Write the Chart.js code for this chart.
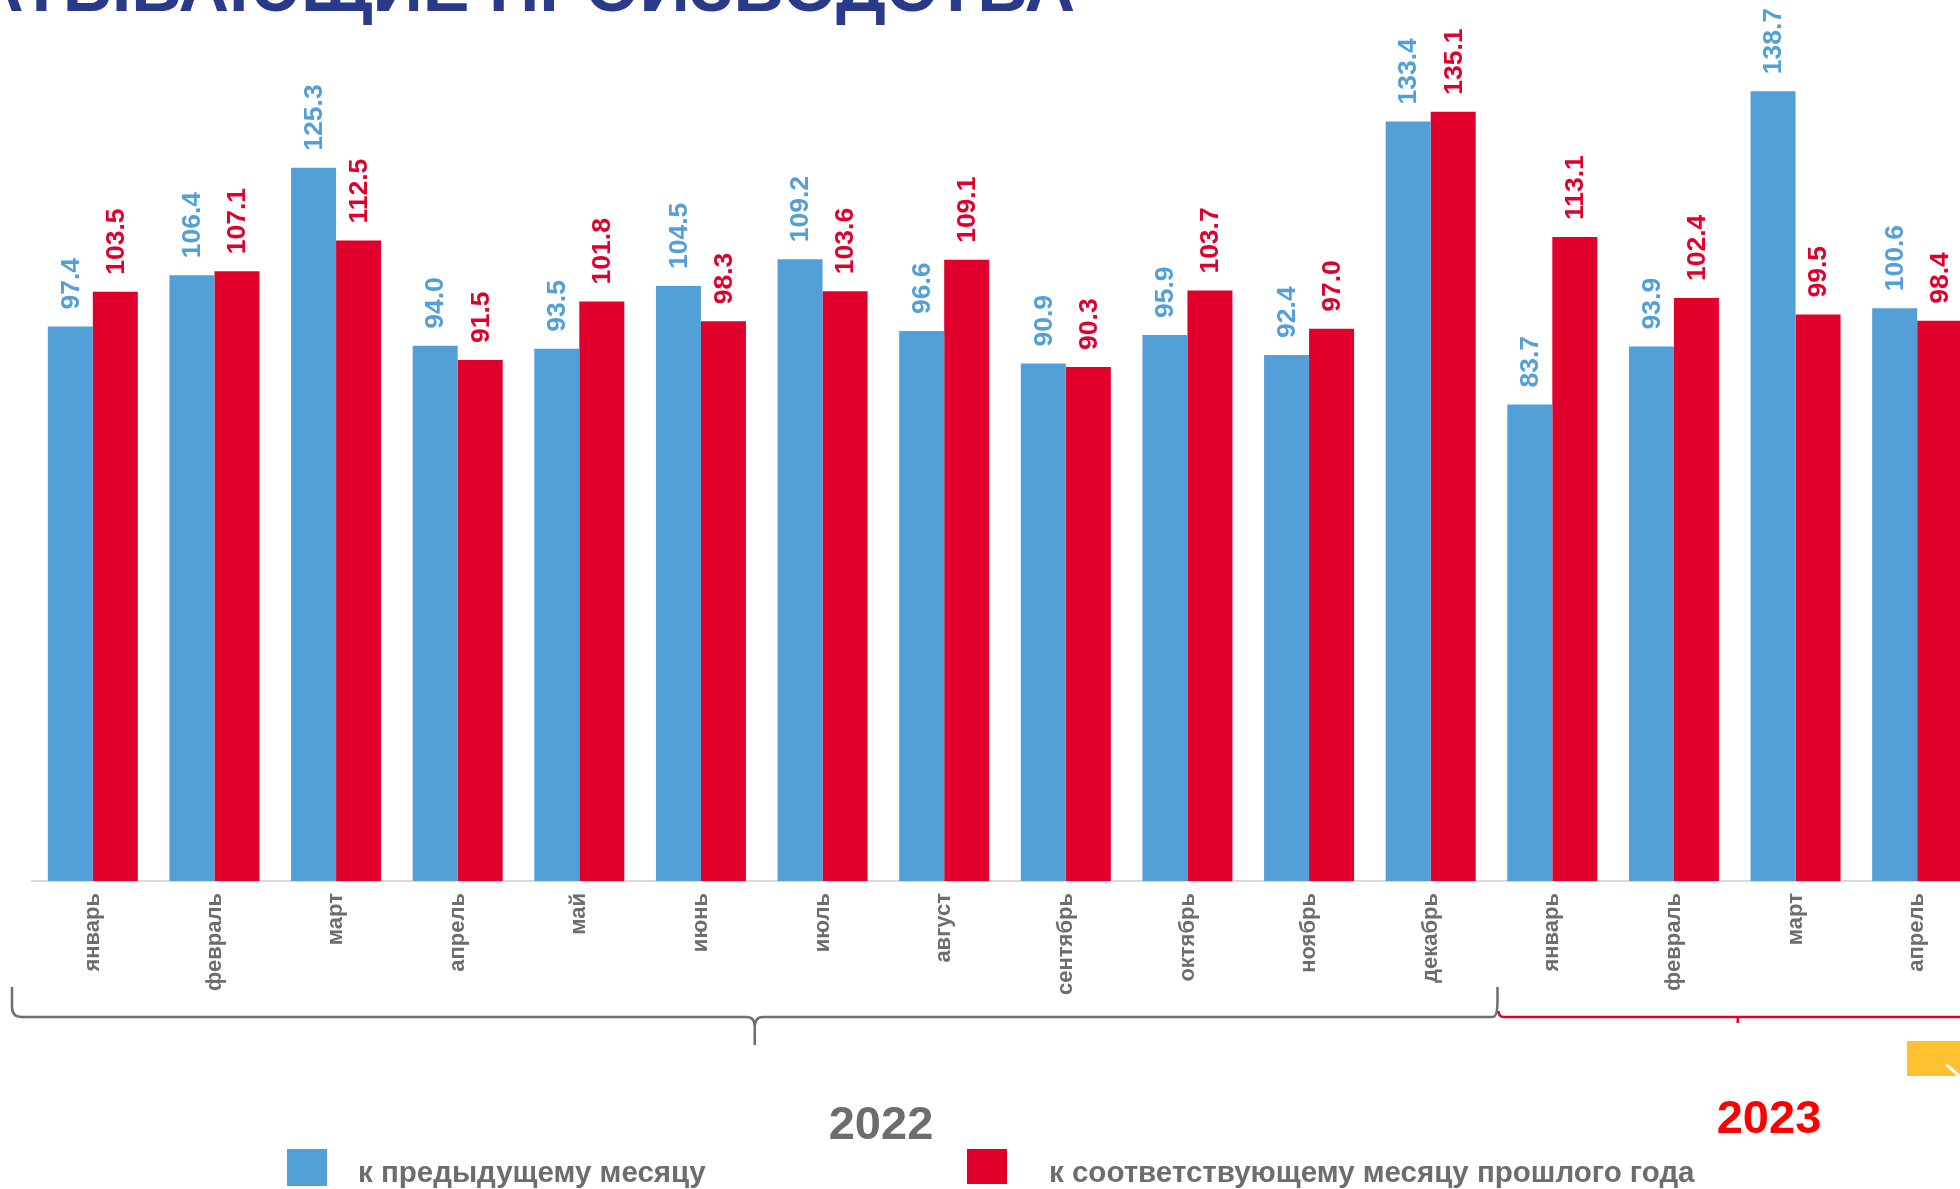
<!DOCTYPE html>
<html lang="ru">
<head>
<meta charset="utf-8">
<title>Обрабатывающие производства</title>
<script src="https://cdn.jsdelivr.net/npm/chart.js"></script>
<style>
    html, body { margin: 0; padding: 0; background: #fff; }
    body {
        width: 1960px; height: 1189px; overflow: hidden; position: relative;
        font-family: 'Liberation Sans', Arial, sans-serif;
    }
    .title {
        position: absolute; right: 885px; top: -48px;
        font-size: 70px; line-height: 70px; font-weight: bold;
        color: #2b3a88; white-space: nowrap;
    }
    #chartBox { position: absolute; left: 0; top: 0; width: 1990px; height: 1189px; }
    .year {
        position: absolute; width: 200px; text-align: center;
        font-size: 47px; line-height: 47px; font-weight: bold;
    }
    .legend-box { position: absolute; top: 1149px; width: 40px; height: 37px; }
    .legend-text {
        position: absolute; top: 1157px;
        font-size: 29.5px; line-height: 29.5px; font-weight: bold;
        color: #6d6d6d; white-space: nowrap;
    }
    .badge { position: absolute; left: 1907px; top: 1041px; width: 60px; height: 35px; background: #fec230; overflow: hidden; }
    .badge div { position: absolute; left: 37px; top: 28px; width: 18px; height: 3px; background: #fff; transform: rotate(40deg); }
</style>
</head>
<body>
<div class="title">ОБРАБАТЫВАЮЩИЕ ПРОИЗВОДСТВА</div>
<div id="chartBox"><canvas id="prodChart"></canvas></div>
<div class="year" style="left:781px; top:1099px; color:#6d6d6d;">2022</div>
<div class="year" style="left:1669px; top:1093px; color:#ff0000;">2023</div>
<div class="legend-box" style="left:287px; background:#539fd7;"></div>
<div class="legend-text" style="left:358px;">к предыдущему месяцу</div>
<div class="legend-box" style="left:967px; height:35px; background:#e0002b;"></div>
<div class="legend-text" style="left:1049px;">к соответствующему месяцу прошлого года</div>
<div class="badge"><div></div></div>

<script>
// Месяцы: 2022 январь-декабрь, 2023 январь-апрель
const months = ['январь', 'февраль', 'март', 'апрель', 'май', 'июнь', 'июль', 'август',
    'сентябрь', 'октябрь', 'ноябрь', 'декабрь', 'январь', 'февраль', 'март', 'апрель'];

// % к предыдущему месяцу
const prevMonth = [97.4, 106.4, 125.3, 94.0, 93.5, 104.5, 109.2, 96.6,
    90.9, 95.9, 92.4, 133.4, 83.7, 93.9, 138.7, 100.6];

// % к соответствующему месяцу прошлого года
const prevYear = [103.5, 107.1, 112.5, 91.5, 101.8, 98.3, 103.6, 109.1,
    90.3, 103.7, 97.0, 135.1, 113.1, 102.4, 99.5, 98.4];

const seriesNames = ['к предыдущему месяцу', 'к соответствующему месяцу прошлого года'];

document.addEventListener('DOMContentLoaded', function() {
    const BLUE = '#539fd7';
    const RED = '#e0002b';
    const FONT = "'Liberation Sans', Arial, sans-serif";

    // vertical value labels above bars
    const valueLabels = {
        id: 'valueLabels',
        afterDatasetsDraw(chart) {
            const ctx = chart.ctx;
            chart.data.datasets.forEach((ds, i) => {
                const meta = chart.getDatasetMeta(i);
                meta.data.forEach((bar, j) => {
                    ctx.save();
                    ctx.translate(bar.x + 1, bar.y - 17);
                    ctx.rotate(-Math.PI / 2);
                    ctx.font = 'bold 26.5px ' + FONT;
                    ctx.fillStyle = ds.backgroundColor;
                    ctx.textAlign = 'left';
                    ctx.textBaseline = 'middle';
                    ctx.fillText(ds.data[j].toFixed(1), 0, 0);
                    ctx.restore();
                });
            });
        }
    };

    // year braces under the month labels
    const yearBraces = {
        id: 'yearBraces',
        afterDraw(chart) {
            const ctx = chart.ctx;
            const x = chart.scales.x;
            const base = chart.chartArea.bottom;
            const yTop = base + 106, yLine = base + 136, yTip = base + 164;
            const x0 = x.left - 20;
            const x1 = (x.getPixelForValue(11) + x.getPixelForValue(12)) / 2 + 6;
            const mid = (x0 + x1) / 2;

            ctx.save();
            ctx.lineWidth = 2.5;
            ctx.strokeStyle = '#6f6f6f';
            ctx.beginPath();
            ctx.moveTo(x0, yTop);
            ctx.lineTo(x0, yLine - 10);
            ctx.quadraticCurveTo(x0, yLine, x0 + 10, yLine);
            ctx.lineTo(mid - 8, yLine);
            ctx.quadraticCurveTo(mid, yLine, mid, yLine + 10);
            ctx.lineTo(mid, yTip);
            ctx.moveTo(mid, yLine + 10);
            ctx.quadraticCurveTo(mid, yLine, mid + 8, yLine);
            ctx.lineTo(x1 - 5, yLine);
            ctx.quadraticCurveTo(x1, yLine, x1, yLine - 16);
            ctx.lineTo(x1, yTop);
            ctx.stroke();

            const x2 = x.right;
            const mid2 = (x1 + x2) / 2;
            ctx.strokeStyle = '#e4002b';
            ctx.beginPath();
            ctx.moveTo(x1 + 1, yLine - 6);
            ctx.quadraticCurveTo(x1 + 1, yLine, x1 + 6, yLine);
            ctx.lineTo(x2 + 10, yLine);
            ctx.moveTo(mid2, yLine);
            ctx.lineTo(mid2, yLine + 6);
            ctx.stroke();
            ctx.restore();
        }
    };

    new Chart(document.getElementById('prodChart'), {
        type: 'bar',
        data: {
            labels: months,
            datasets: [
                { label: seriesNames[0], data: prevMonth, backgroundColor: BLUE },
                { label: seriesNames[1], data: prevYear, backgroundColor: RED }
            ]
        },
        options: {
            responsive: true,
            maintainAspectRatio: false,
            animation: false,
            layout: { padding: { left: 32, right: 12, top: 27, bottom: 0 } },
            datasets: {
                bar: { categoryPercentage: 0.74, barPercentage: 1.0 }
            },
            plugins: {
                legend: { display: false },
                tooltip: { enabled: false }
            },
            scales: {
                x: {
                    grid: { display: false, drawTicks: false },
                    border: { display: true, color: '#d9d9d9', width: 2 },
                    ticks: {
                        color: '#6d6d6d',
                        font: { family: FONT, size: 22, weight: 'bold' },
                        minRotation: 90,
                        maxRotation: 90,
                        autoSkip: false,
                        padding: 12
                    },
                    afterFit: (scale) => { scale.height = 308; }
                },
                y: {
                    display: false,
                    min: 0,
                    max: 150
                }
            }
        },
        plugins: [valueLabels, yearBraces]
    });
});
</script>
</body>
</html>
